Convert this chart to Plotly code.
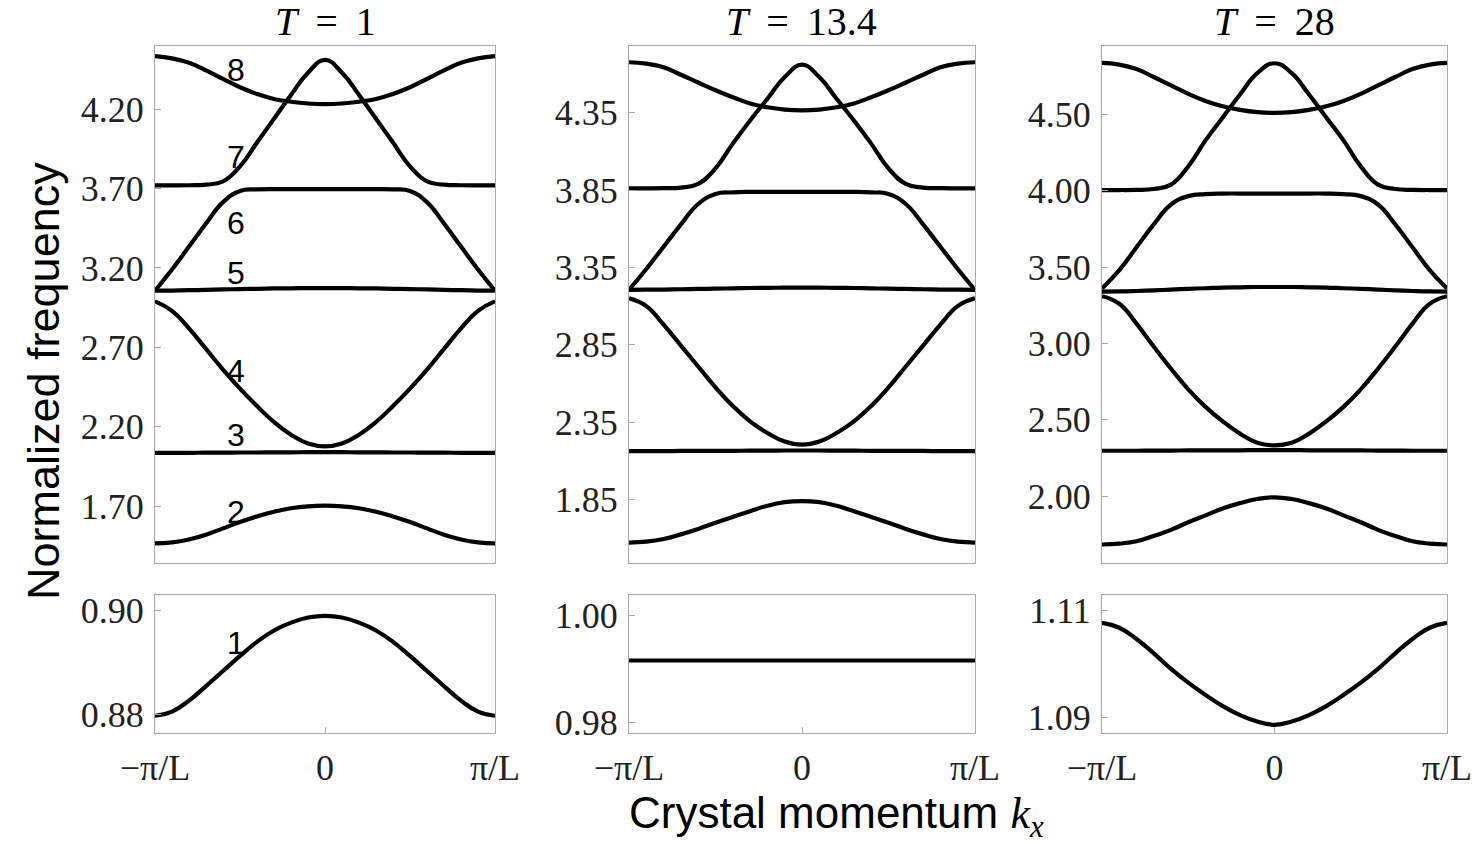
import plotly.graph_objects as go

# crystal momentum in units of pi/L
k = [-1.0, -0.9, -0.8, -0.7, -0.6, -0.5, -0.4, -0.3, -0.2, -0.1, 0.0,
     0.1, 0.2, 0.3, 0.4, 0.5, 0.6, 0.7, 0.8, 0.9, 1.0]

T_values = ["1", "13.4", "28"]

# ---------------- T = 1 ----------------
t1_b8 = [4.534, 4.520, 4.492, 4.445, 4.391, 4.338, 4.296, 4.264, 4.247, 4.236, 4.232,
         4.236, 4.247, 4.264, 4.296, 4.338, 4.391, 4.445, 4.492, 4.520, 4.534]
t1_b7 = [3.720, 3.720, 3.721, 3.725, 3.745, 3.840, 3.990, 4.140, 4.290, 4.430, 4.510,
         4.430, 4.290, 4.140, 3.990, 3.840, 3.745, 3.725, 3.721, 3.720, 3.720]
t1_b6 = [3.057, 3.190, 3.335, 3.480, 3.615, 3.685, 3.695, 3.697, 3.697, 3.697, 3.697,
         3.697, 3.697, 3.697, 3.695, 3.685, 3.615, 3.480, 3.335, 3.190, 3.057]
t1_b5 = [3.057, 3.058, 3.060, 3.062, 3.065, 3.067, 3.069, 3.071, 3.072, 3.073, 3.073,
         3.073, 3.072, 3.071, 3.069, 3.067, 3.065, 3.062, 3.060, 3.058, 3.057]
t1_b4 = [2.990, 2.930, 2.820, 2.690, 2.560, 2.440, 2.330, 2.230, 2.150, 2.095, 2.077,
         2.095, 2.150, 2.230, 2.330, 2.440, 2.560, 2.690, 2.820, 2.930, 2.990]
t1_b3 = [2.036, 2.036, 2.036, 2.037, 2.037, 2.038, 2.038, 2.039, 2.039, 2.040, 2.040,
         2.040, 2.039, 2.039, 2.038, 2.038, 2.037, 2.037, 2.036, 2.036, 2.036]
t1_b2 = [1.466, 1.472, 1.490, 1.520, 1.560, 1.600, 1.635, 1.665, 1.687, 1.699, 1.703,
         1.699, 1.687, 1.665, 1.635, 1.600, 1.560, 1.520, 1.490, 1.472, 1.466]
t1_b1 = [0.8798, 0.8806, 0.8827, 0.8855, 0.8884, 0.8913, 0.8940, 0.8962, 0.8977, 0.8987, 0.8990,
         0.8987, 0.8977, 0.8962, 0.8940, 0.8913, 0.8884, 0.8855, 0.8827, 0.8806, 0.8798]

# ---------------- T = 13.4 ----------------
t2_b8 = [4.676, 4.667, 4.643, 4.595, 4.545, 4.495, 4.450, 4.410, 4.385, 4.370, 4.365,
         4.370, 4.385, 4.410, 4.450, 4.495, 4.545, 4.595, 4.643, 4.667, 4.676]
t2_b7 = [3.861, 3.861, 3.862, 3.866, 3.890, 3.990, 4.150, 4.300, 4.440, 4.580, 4.660,
         4.580, 4.440, 4.300, 4.150, 3.990, 3.890, 3.866, 3.862, 3.861, 3.861]
t2_b6 = [3.205, 3.340, 3.484, 3.628, 3.760, 3.825, 3.835, 3.838, 3.838, 3.838, 3.838,
         3.838, 3.838, 3.838, 3.835, 3.825, 3.760, 3.628, 3.484, 3.340, 3.205]
t2_b5 = [3.205, 3.206, 3.207, 3.209, 3.211, 3.213, 3.215, 3.217, 3.218, 3.219, 3.219,
         3.219, 3.218, 3.217, 3.215, 3.213, 3.211, 3.209, 3.207, 3.206, 3.205]
t2_b4 = [3.150, 3.100, 2.980, 2.845, 2.710, 2.575, 2.455, 2.355, 2.280, 2.225, 2.205,
         2.225, 2.280, 2.355, 2.455, 2.575, 2.710, 2.845, 2.980, 3.100, 3.150]
t2_b3 = [2.163, 2.163, 2.163, 2.164, 2.164, 2.165, 2.165, 2.166, 2.166, 2.167, 2.167,
         2.167, 2.166, 2.166, 2.165, 2.165, 2.164, 2.164, 2.163, 2.163, 2.163]
t2_b2 = [1.572, 1.578, 1.595, 1.625, 1.660, 1.700, 1.738, 1.775, 1.810, 1.833, 1.840,
         1.833, 1.810, 1.775, 1.738, 1.700, 1.660, 1.625, 1.595, 1.578, 1.572]
t2_b1 = [0.9916, 0.9916, 0.9916, 0.9916, 0.9916, 0.9916, 0.9916, 0.9916, 0.9916, 0.9916, 0.9916,
         0.9916, 0.9916, 0.9916, 0.9916, 0.9916, 0.9916, 0.9916, 0.9916, 0.9916, 0.9916]

# ---------------- T = 28 ----------------
t3_b8 = [4.837, 4.826, 4.797, 4.745, 4.690, 4.635, 4.588, 4.553, 4.530, 4.515, 4.510,
         4.515, 4.530, 4.553, 4.588, 4.635, 4.690, 4.745, 4.797, 4.826, 4.837]
t3_b7 = [4.005, 4.005, 4.006, 4.012, 4.040, 4.160, 4.330, 4.480, 4.630, 4.770, 4.835,
         4.770, 4.630, 4.480, 4.330, 4.160, 4.040, 4.012, 4.006, 4.005, 4.005]
t3_b6 = [3.360, 3.480, 3.630, 3.780, 3.910, 3.965, 3.978, 3.982, 3.982, 3.982, 3.982,
         3.982, 3.982, 3.982, 3.978, 3.965, 3.910, 3.780, 3.630, 3.480, 3.360]
t3_b5 = [3.340, 3.341, 3.344, 3.348, 3.353, 3.358, 3.362, 3.366, 3.368, 3.370, 3.370,
         3.370, 3.368, 3.366, 3.362, 3.358, 3.353, 3.348, 3.344, 3.341, 3.340]
t3_b4 = [3.310, 3.260, 3.130, 2.980, 2.835, 2.700, 2.585, 2.490, 2.410, 2.350, 2.333,
         2.350, 2.410, 2.490, 2.585, 2.700, 2.835, 2.980, 3.130, 3.260, 3.310]
t3_b3 = [2.298, 2.298, 2.298, 2.299, 2.299, 2.300, 2.300, 2.301, 2.301, 2.302, 2.302,
         2.302, 2.301, 2.301, 2.300, 2.300, 2.299, 2.299, 2.298, 2.298, 2.298]
t3_b2 = [1.684, 1.690, 1.705, 1.740, 1.780, 1.830, 1.875, 1.920, 1.955, 1.982, 1.993,
         1.982, 1.955, 1.920, 1.875, 1.830, 1.780, 1.740, 1.705, 1.690, 1.684]
t3_b1 = [1.1077, 1.1068, 1.1047, 1.1020, 1.0991, 1.0965, 1.0942, 1.0921, 1.0904, 1.0892, 1.0886,
         1.0892, 1.0904, 1.0921, 1.0942, 1.0965, 1.0991, 1.1020, 1.1047, 1.1068, 1.1077]

upper_bands = [
    [t1_b2, t1_b3, t1_b4, t1_b5, t1_b6, t1_b7, t1_b8],
    [t2_b2, t2_b3, t2_b4, t2_b5, t2_b6, t2_b7, t2_b8],
    [t3_b2, t3_b3, t3_b4, t3_b5, t3_b6, t3_b7, t3_b8],
]
lower_bands = [t1_b1, t2_b1, t3_b1]

upper_ticks = [
    [1.70, 2.20, 2.70, 3.20, 3.70, 4.20],
    [1.85, 2.35, 2.85, 3.35, 3.85, 4.35],
    [2.00, 2.50, 3.00, 3.50, 4.00, 4.50],
]
lower_ticks = [[0.88, 0.90], [0.98, 1.00], [1.09, 1.11]]
upper_ranges = [[1.342, 4.598], [1.440, 4.781], [1.563, 4.948]]
lower_ranges = [[0.87648, 0.90302], [0.9780, 1.00388], [1.08706, 1.11294]]

x_tickvals = [-1, 0, 1]
x_ticktext = ["\u2212\u03c0/L", "0", "\u03c0/L"]

band_label_text = ["8", "7", "6", "5", "4", "3", "2", "1"]
band_label_py = [70, 157, 223, 273, 371, 435, 512, 643]

# ---------------- layout geometry (pixels) ----------------
W, H = 1484, 844
col_px = [(155, 495), (629, 975), (1102, 1447)]
top_px = (46, 563)
bot_px = (595, 733)

SERIF = "Liberation Serif, Times New Roman, serif"
SANS = "Liberation Sans, Arial, sans-serif"
FRAME = "#a8a8a8"

fig = go.Figure()
layout = dict(
    width=W, height=H,
    margin=dict(l=0, r=0, t=0, b=0, autoexpand=False),
    paper_bgcolor="white", plot_bgcolor="white",
    showlegend=False,
)

def xd(a, b):
    return [a / W, b / W]

def yd(a, b):
    return [1 - b / H, 1 - a / H]

LINE = dict(color="black", width=4.2, shape="spline", smoothing=1.3)

for c in range(3):
    ti = 2 * c + 1
    bi = 2 * c + 2
    xs_t = "x" if ti == 1 else f"x{ti}"
    ys_t = "y" if ti == 1 else f"y{ti}"
    xs_b = f"x{bi}"
    ys_b = f"y{bi}"
    for band in upper_bands[c]:
        fig.add_trace(go.Scatter(x=k, y=band, mode="lines", xaxis=xs_t, yaxis=ys_t,
                                 line=LINE, hoverinfo="skip"))
    fig.add_trace(go.Scatter(x=k, y=lower_bands[c], mode="lines", xaxis=xs_b, yaxis=ys_b,
                             line=LINE, hoverinfo="skip"))

    common_x = dict(range=[-1, 1], showgrid=False, zeroline=False, showline=True, mirror=True,
                    linecolor=FRAME, linewidth=1, domain=xd(*col_px[c]), automargin=False)
    common_y = dict(showgrid=False, zeroline=False, showline=True, mirror=True,
                    linecolor=FRAME, linewidth=1, ticks="inside", ticklen=6, tickcolor=FRAME,
                    tickformat=".2f", tickfont=dict(family=SERIF, size=36, color="#222"),
                    ticklabelstandoff=3, automargin=False)
    layout["xaxis" if ti == 1 else f"xaxis{ti}"] = dict(
        common_x, anchor=ys_t, showticklabels=False, ticks="")
    layout["yaxis" if ti == 1 else f"yaxis{ti}"] = dict(
        common_y, anchor=xs_t, range=upper_ranges[c], tickvals=upper_ticks[c],
        domain=yd(*top_px))
    layout[f"xaxis{bi}"] = dict(
        common_x, anchor=ys_b, tickvals=x_tickvals, ticktext=x_ticktext,
        ticks="inside", ticklen=6, tickcolor=FRAME,
        tickfont=dict(family=SERIF, size=36, color="#222"), ticklabelstandoff=3)
    layout[f"yaxis{bi}"] = dict(
        common_y, anchor=xs_b, range=lower_ranges[c], tickvals=lower_ticks[c],
        domain=yd(*bot_px))

annotations = []
col_centers = [325, 801, 1274]
for c in range(3):
    annotations.append(dict(
        text=f"<i>T</i>\u2009 = \u2009{T_values[c]}", x=col_centers[c] / W, y=1 - 22 / H,
        xref="paper", yref="paper", xanchor="center", yanchor="middle", showarrow=False,
        font=dict(family=SERIF, size=40, color="black")))

for txt, py in zip(band_label_text, band_label_py):
    annotations.append(dict(
        text=txt, x=236 / W, y=1 - py / H, xref="paper", yref="paper",
        xanchor="center", yanchor="middle", showarrow=False,
        font=dict(family=SANS, size=32, color="black")))

annotations.append(dict(
    text="Normalized frequency", x=43 / W, y=1 - 381 / H, xref="paper", yref="paper",
    xanchor="center", yanchor="middle", showarrow=False, textangle=-90,
    font=dict(family=SANS, size=45, color="black")))

annotations.append(dict(
    text="Crystal momentum <span style='font-family:Liberation Serif'><i>k</i><sub><i>x</i></sub></span>",
    x=836 / W, y=1 - 816 / H, xref="paper", yref="paper",
    xanchor="center", yanchor="middle", showarrow=False,
    font=dict(family=SANS, size=44, color="black")))

layout["annotations"] = annotations
fig.update_layout(**layout)
fig.write_html("out.html")
